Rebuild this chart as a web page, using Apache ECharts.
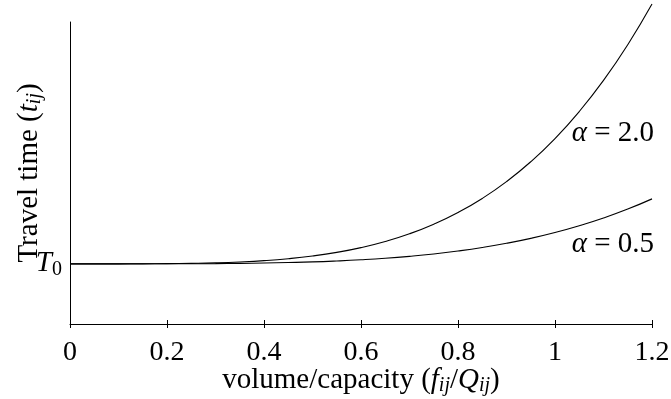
<!DOCTYPE html>
<html>
<head>
<meta charset="utf-8">
<script src="https://cdn.jsdelivr.net/npm/echarts@6/dist/echarts.min.js"></script>
<style>
  html, body { margin: 0; padding: 0; background: #fff; }
  #chart { width: 671px; height: 399px; }
</style>
</head>
<body>
<div id="chart"></div>
<script>
// volume/capacity ratio (x) and travel time relative to T0
const ratio = [0, 0.05, 0.1, 0.15, 0.2, 0.25, 0.3, 0.35, 0.4, 0.45, 0.5, 0.55, 0.6,
  0.65, 0.7, 0.75, 0.8, 0.85, 0.9, 0.95, 1.0, 1.05, 1.1, 1.15, 1.2];
const timeAlpha20 = [1, 1, 1.0002, 1.001, 1.003, 1.008, 1.016, 1.03, 1.051, 1.082, 1.125, 1.183, 1.259,
  1.357, 1.48, 1.633, 1.819, 2.044, 2.312, 2.629, 3.0, 3.431, 3.928, 4.498, 5.147];
const timeAlpha05 = [1, 1, 1.0001, 1.0003, 1.001, 1.002, 1.004, 1.008, 1.013, 1.021, 1.031, 1.046, 1.065,
  1.089, 1.12, 1.158, 1.205, 1.261, 1.328, 1.407, 1.5, 1.608, 1.732, 1.874, 2.037];
const xTicks = [0, 0.2, 0.4, 0.6, 0.8, 1, 1.2];
const T0 = 1;

const serif = '"Liberation Serif", "DejaVu Serif", serif';
const chart = echarts.init(document.getElementById('chart'));

const pair = (ys) => ratio.map((x, i) => [x, ys[i]]);
const mathRich = {
  n: { fontFamily: serif, fontSize: 29, color: '#000', lineHeight: 32 },
  i: { fontFamily: serif, fontSize: 29, fontStyle: 'italic', color: '#000', lineHeight: 32 },
  s: { fontFamily: serif, fontSize: 20, fontStyle: 'italic', color: '#000', verticalAlign: 'bottom', lineHeight: 32, padding: [12, 0, 0, 0] }
};

chart.setOption({
  animation: false,
  grid: { left: 70, right: 19, top: 22, bottom: 75, containLabel: false, outerBoundsMode: 'none' },
  xAxis: [{
    type: 'value',
    min: 0, max: 1.2, interval: 0.2,
    axisLine: { lineStyle: { color: '#000', width: 1 } },
    axisTick: { show: true, length: 4, lineStyle: { color: '#000' } },
    splitLine: { show: false },
    axisLabel: {
      customValues: xTicks,
      color: '#000', fontFamily: serif, fontSize: 28, lineHeight: 28, margin: 15
    },
    name: '{n|volume/capacity (}{i|f}{s|ij}{n|/}{i|Q}{s|ij}{n|)}',
    nameLocation: 'middle',
    nameGap: 40,
    nameMoveOverlap: false,
    nameTextStyle: { rich: mathRich }
  }, {
    type: 'value',
    min: 0, max: 1.2, interval: 0.2,
    position: 'bottom',
    axisLine: { show: false },
    axisTick: { show: true, inside: true, length: 4, lineStyle: { color: '#000' } },
    axisLabel: { show: false },
    splitLine: { show: false }
  }],
  yAxis: {
    type: 'value',
    min: 0.04, max: 4.86,
    axisLine: { show: true, lineStyle: { color: '#000', width: 1 } },
    axisTick: { show: false },
    splitLine: { show: false },
    axisLabel: {
      customValues: [T0],
      formatter: () => '{i|T}{s|0}',
      rich: {
        i: mathRich.i,
        s: { fontFamily: serif, fontSize: 20, color: '#000', verticalAlign: 'bottom', lineHeight: 32, padding: [12, 0, 0, 0] }
      },
      margin: 8
    },
    name: '{n|Travel time (}{i|t}{s|ij}{n|)}',
    nameLocation: 'middle',
    nameGap: 25,
    nameRotate: 90,
    nameMoveOverlap: false,
    nameTextStyle: { rich: mathRich }
  },
  series: [{
    type: 'line',
    data: pair(timeAlpha20),
    smooth: true,
    symbol: 'none',
    clip: false,
    lineStyle: { color: '#000', width: 1.1 }
  }, {
    type: 'line',
    data: pair(timeAlpha05),
    smooth: true,
    symbol: 'none',
    clip: false,
    lineStyle: { color: '#000', width: 1.1 }
  }],
  graphic: [{
    type: 'text', right: 17, top: 119,
    style: { text: '{i|\u03b1}{n| = 2.0}', rich: mathRich }
  }, {
    type: 'text', right: 17, top: 230,
    style: { text: '{i|\u03b1}{n| = 0.5}', rich: mathRich }
  }]
});
</script>
</body>
</html>
